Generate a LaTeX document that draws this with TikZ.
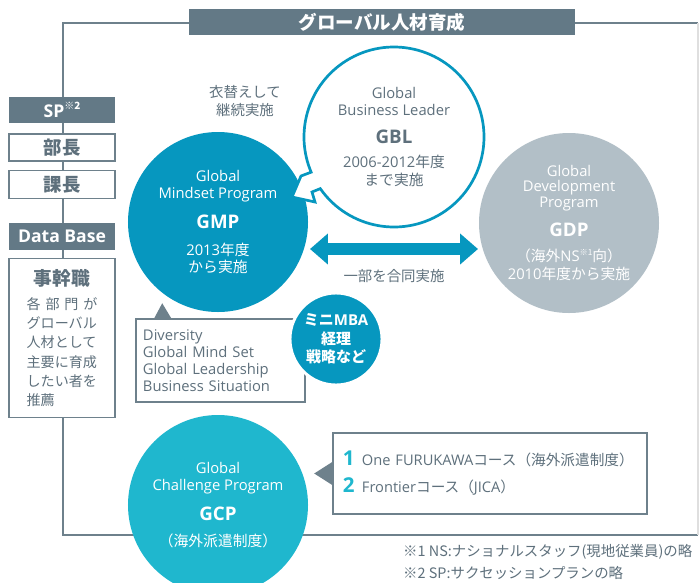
\documentclass[tikz,border=0pt]{standalone}
\usepackage{fontspec}
\setmainfont{Noto Sans CJK JP}
\newfontfamily\lat{Open Sans}
\usetikzlibrary{arrows.meta,positioning,calc}
\definecolor{slate}{RGB}{99,121,134}
\definecolor{txtgray}{RGB}{94,112,124}
\definecolor{gmpblue}{RGB}{6,151,191}
\definecolor{gcpcyan}{RGB}{31,183,206}
\definecolor{gdpgray}{RGB}{178,191,199}
\definecolor{linegray}{RGB}{110,129,140}
\newcommand{\fsz}[2]{\fontsize{#1}{#2}\selectfont}
\newcommand{\itemno}[1]{\makebox[0.57cm][l]{\textcolor{gcpcyan}{\lat\fsz{17.5}{15}\bfseries #1}}}
\tikzset{bigtip/.tip={Triangle[width=25.5pt,length=15.3pt]}}

\begin{document}
\begin{tikzpicture}[x=0.03cm,y=-0.03cm,
 frame/.style={draw=linegray,line width=1.7pt},
 darkbar/.style={fill=slate,text=white,font=\lat\fsz{15}{18}\bfseries,inner sep=0pt,minimum width=3.18cm},
 rankbox/.style={draw=linegray,line width=1.3pt,fill=white,text=txtgray,inner sep=0pt,minimum width=3.18cm,font=\fsz{15.7}{18}\bfseries},
 prog/.style={circle,minimum size=5.4cm,inner sep=0pt,outer sep=0pt,align=center,text=white,font=\fsz{12.6}{14.5}},
 note/.style={draw=linegray,line width=1.3pt,fill=white,text=txtgray,align=left,inner ysep=0pt},
 pointer/.style={fill=linegray},
 gray text/.style={text=txtgray,font=\fsz{12.3}{15.3}}]
\fill[white] (0,0) rectangle (699,582);
\useasboundingbox (0,0) rectangle (699,582);

% outer frame
\draw[frame] (698,23) -- (63,23) -- (63,535) -- (698,535);
\draw[gray!25,line width=1pt] (698,23) -- (698,535);
\node[darkbar,minimum width=11.58cm,minimum height=0.78cm,font=\fsz{15.8}{18}\bfseries] (title) at (382,22) {グローバル人材育成};

% left column
\node[darkbar,minimum height=0.78cm] (sp) at (62,110) {SP\raisebox{0.9ex}{\normalfont\fsz{8.5}{9}\bfseries ※2}};
\node[rankbox,minimum height=0.81cm,below=0.3cm of sp] (bucho) {部長};
\node[rankbox,minimum height=0.84cm,below=0.24cm of bucho] (kacho) {課長};
\node[darkbar,minimum height=0.81cm,below=0.69cm of kacho] (db) {Data Base};
\node[rankbox,minimum height=4.77cm,below=0.24cm of db,text width=2.12cm,align=left,font=\fsz{12}{16.5}] (jikan) {%
 \makebox[\linewidth]{\fsz{16}{18}\bfseries 事幹職}\\[4pt]
 \makebox[\linewidth][s]{各\hfill 部\hfill 門\hfill が}\\
 グローバル\\人材として\\主要に育成\\したい者を\\推薦};

% programmes
\node[prog,fill=gmpblue] (gmp) at (218,222) {{\lat Global}\\{\lat Mindset Program}\\[10pt]{\lat\fsz{16}{18}\bfseries GMP}\\[8pt]{\lat 2013}年度\\から実施};
\node[prog,fill=gdpgray,font=\fsz{12.6}{13.5}] (gdp) at (569,223) {{\lat Global}\\{\lat Development}\\{\lat Program}\\[9pt]{\lat\fsz{16}{18}\bfseries GDP}\\[8pt]（海外{\lat NS}\raisebox{0.8ex}{\fsz{7}{7}※1}向）\\[2pt]{\lat 2010}年度から実施};
\coordinate (gblc) at (394,137);
\filldraw[fill=white,draw=gmpblue,line width=2.3pt] ($(gblc)+(215:2.7cm)$) arc[start angle=215,end angle=563,radius=2.7cm] -- (301,176) -- (292,197) -- (315,202) -- (312,192) -- cycle;
\node[prog,text=txtgray] (gbl) at (gblc) {{\lat Global}\\{\lat Business Leader}\\[10pt]{\lat\fsz{16}{18}\bfseries GBL}\\[6pt]{\lat 2006-2012}年度\\[1pt]まで実施};
\node[gray text,align=center] (kigae) at (245,101) {衣替えして\\継続実施};

\draw[gmpblue,line width=10.2pt,{bigtip}-{bigtip}] ($(gmp.east)+(2,27)$) -- node[below=0.42cm,inner sep=0pt,gray text] (joint) {一部を合同実施} ($(gdp.west)+(-1,26)$);

% contents of GMP
\node[note,text width=4.65cm,minimum height=2.49cm,inner xsep=0.21cm,font=\lat\fsz{12.6}{14.5}] (skills) at (220.5,360.5) {Diversity\\Global Mind Set\\Global Leadership\\Business Situation};
\fill[pointer] ($(skills.north west)+(19,0)$) -- ++(8,-15) -- ++(9,15) -- cycle;
\node[circle,fill=gmpblue,draw=white,line width=2.5pt,minimum size=2.76cm,inner sep=0pt,align=center,text=white,font=\fsz{12.8}{15.7}\bfseries] (mba) at (336,339) {ミニ{\lat MBA}\\経理\\戦略など};

% GCP
\node[prog,fill=gcpcyan] (gcp) at (218,505) {{\lat Global}\\{\lat Challenge Program}\\[10pt]{\lat\fsz{16}{18}\bfseries GCP}\\[8pt]（海外派遣制度）};
\node[note,text width=8.82cm,minimum height=2.43cm,inner xsep=0.3cm,font=\fsz{12.5}{15}] (courses) at (490,473.5) {\itemno{1}{\lat One FURUKAWA}コース（海外派遣制度）\\[8pt]\itemno{2}{\lat Frontier}コース（{\lat JICA}）};
\fill[pointer] ($(courses.west)+(0,-11.5)$) -- ++(-18,11.5) -- ++(18,11.5) -- cycle;

% notes
\node[anchor=west,inner sep=0pt,text=txtgray,font=\fsz{12.3}{15}] (fn1) at (403,552) {※1 NS:ナショナルスタッフ(現地従業員)の略};
\node[anchor=west,inner sep=0pt,text=txtgray,font=\fsz{12.3}{15}] (fn2) at (403,573) {※2 SP:サクセッションプランの略};
\end{tikzpicture}
\end{document}
